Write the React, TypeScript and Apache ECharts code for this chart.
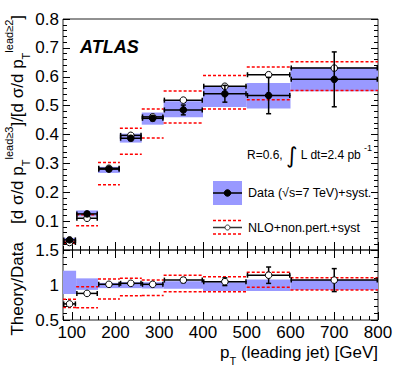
import React, { useEffect, useRef } from 'react';
import * as echarts from 'echarts';

// ---- data ----
const binLow = [80, 110, 160, 210, 260, 310, 400, 500, 600];
const binHigh = [110, 160, 210, 260, 310, 400, 500, 600, 800];
const binCenter = [95, 135, 185, 235, 285, 355, 450, 550, 700];

const dataValue = [0.035, 0.125, 0.28, 0.387, 0.456, 0.485, 0.541, 0.535, 0.591];
const dataStatErr = [0.003, 0.006, 0.006, 0.008, 0.008, 0.017, 0.029, 0.063, 0.095];
const dataSystLow = [0.030, 0.116, 0.267, 0.372, 0.434, 0.460, 0.495, 0.490, 0.550];
const dataSystHigh = [0.042, 0.137, 0.288, 0.403, 0.476, 0.515, 0.565, 0.578, 0.632];

const nloValue = [0.026, 0.110, 0.283, 0.397, 0.461, 0.519, 0.567, 0.607, 0.630];
const nloLow = [0.0238, 0.084, 0.226, 0.332, 0.388, 0.440, 0.488, 0.520, 0.552];
const nloHigh = [0.0278, 0.122, 0.303, 0.422, 0.488, 0.551, 0.604, 0.634, 0.652];

const ratioValue = [0.73, 0.88, 1.01, 1.024, 1.01, 1.07, 1.047, 1.14, 1.07];
const ratioErr = [0.01, 0.02, 0.02, 0.02, 0.018, 0.035, 0.055, 0.117, 0.164];
const ratioBandLow = [0.871, 0.93, 0.955, 0.955, 0.95, 0.945, 0.914, 0.914, 0.93];
const ratioBandHigh = [1.204, 1.095, 1.03, 1.04, 1.04, 1.055, 1.04, 1.08, 1.07];
const ratioNloLow = [0.68, 0.675, 0.80, 0.847, 0.85, 0.904, 0.905, 0.967, 0.93];
const ratioNloHigh = [0.795, 0.976, 1.086, 1.095, 1.07, 1.14, 1.119, 1.181, 1.104];

// ---- tick labels ----
const xMajorTicks = [100, 200, 300, 400, 500, 600, 700, 800];
const topYMajorTicks = [0, 0.1, 0.2, 0.3, 0.4, 0.5, 0.6, 0.7, 0.8];
const topYLabels = [0.1, 0.2, 0.3, 0.4, 0.5, 0.6, 0.7, 0.8];
const ratioYMajorTicks = [0.5, 1, 1.5];

const FONT = '"Liberation Sans", Arial, Helvetica, sans-serif';
const BAND = '#9999ff';
const RED = '#ff0000';

function steps(a: number, b: number, s: number) {
  const out: number[] = [];
  for (let k = 0; a + k * s <= b + 1e-9; k++) out.push(+(a + k * s).toFixed(4));
  return out;
}
const xMinorTicks = steps(80, 800, 20);
const topYMinorTicks = steps(0, 0.8, 0.02);
const ratioYMinorTicks = steps(0.5, 1.5, 0.1);

function axis(gridIndex: number, position: string, min: number, max: number, ticks: number[], len: number, labels?: number[]) {
  return {
    type: 'value',
    gridIndex,
    position,
    min,
    max,
    axisLine: { show: false },
    splitLine: { show: false },
    axisTick: { show: true, inside: true, length: len, customValues: ticks, lineStyle: { color: '#000', width: 1 } },
    axisLabel: labels
      ? {
          show: true,
          customValues: labels,
          fontSize: 17,
          fontFamily: FONT,
          color: '#000',
          margin: 4,
          formatter: (v: any) => String(+(+v).toFixed(2)),
        }
      : { show: false },
  };
}

function bandRender(lo: number[], hi: number[]) {
  return (_p: any, api: any) => {
    const i = api.value(2);
    const a = api.coord([binLow[i], hi[i]]);
    const b = api.coord([binHigh[i], lo[i]]);
    return {
      type: 'rect',
      shape: { x: a[0], y: a[1], width: b[0] - a[0], height: b[1] - a[1] },
      style: { fill: BAND },
    };
  };
}

function dashRender(lo: number[], hi: number[]) {
  return (_p: any, api: any) => {
    const i = api.value(2);
    const children = [lo[i], hi[i]].map((v) => {
      const a = api.coord([binLow[i], v]);
      const b = api.coord([binHigh[i], v]);
      return {
        type: 'line',
        shape: { x1: a[0], y1: a[1], x2: b[0], y2: b[1] },
        style: { stroke: RED, lineWidth: 1.5, lineDash: [3, 2] },
      };
    });
    return { type: 'group', children };
  };
}

function markerRender(val: number[], err: number[] | null, filled: boolean) {
  return (_p: any, api: any) => {
    const i = api.value(2);
    const l = api.coord([binLow[i], val[i]]);
    const r = api.coord([binHigh[i], val[i]]);
    const c = api.coord([binCenter[i], val[i]]);
    const st = { stroke: '#000', lineWidth: 1.5 };
    const cap = 2.5;
    const children: any[] = [
      { type: 'line', shape: { x1: l[0], y1: l[1], x2: r[0], y2: r[1] }, style: st },
      { type: 'line', shape: { x1: l[0] + 0.75, y1: l[1] - cap, x2: l[0] + 0.75, y2: l[1] + cap }, style: st },
      { type: 'line', shape: { x1: r[0] - 0.75, y1: r[1] - cap, x2: r[0] - 0.75, y2: r[1] + cap }, style: st },
    ];
    if (err) {
      const t = api.coord([binCenter[i], val[i] + err[i]]);
      const b = api.coord([binCenter[i], val[i] - err[i]]);
      children.push(
        { type: 'line', shape: { x1: t[0], y1: t[1], x2: b[0], y2: b[1] }, style: st },
        { type: 'line', shape: { x1: t[0] - cap, y1: t[1], x2: t[0] + cap, y2: t[1] }, style: st },
        { type: 'line', shape: { x1: b[0] - cap, y1: b[1], x2: b[0] + cap, y2: b[1] }, style: st }
      );
    }
    children.push({
      type: 'circle',
      shape: { cx: c[0], cy: c[1], r: 3.3 },
      style: { fill: filled ? '#000' : '#fff', stroke: '#000', lineWidth: 1 },
    });
    return { type: 'group', children };
  };
}

function seriesData(val: number[]) {
  return binCenter.map((c, i) => [c, val[i], i]);
}

function custom(gridAxis: number, val: number[], renderItem: any, z: number) {
  return {
    type: 'custom',
    xAxisIndex: gridAxis,
    yAxisIndex: gridAxis,
    data: seriesData(val),
    encode: { x: 0, y: 1 },
    renderItem,
    z,
    silent: true,
  };
}

const option: any = {
  animation: false,
  backgroundColor: '#fff',
  grid: [
    { left: 63, right: 21, top: 19, height: 231, show: true, borderColor: '#222', borderWidth: 1, backgroundColor: 'transparent' },
    { left: 63, right: 21, top: 250, height: 70, show: true, borderColor: '#222', borderWidth: 1, backgroundColor: 'transparent' },
  ],
  xAxis: [
    axis(0, 'bottom', 80, 800, xMajorTicks, 8),
    axis(0, 'bottom', 80, 800, xMinorTicks, 4),
    axis(0, 'top', 80, 800, xMajorTicks, 8),
    axis(0, 'top', 80, 800, xMinorTicks, 4),
    axis(1, 'bottom', 80, 800, xMajorTicks, 8, xMajorTicks),
    axis(1, 'bottom', 80, 800, xMinorTicks, 4),
    axis(1, 'top', 80, 800, xMajorTicks, 8),
    axis(1, 'top', 80, 800, xMinorTicks, 4),
  ],
  yAxis: [
    axis(0, 'left', 0, 0.8, topYMajorTicks, 7, topYLabels),
    axis(0, 'left', 0, 0.8, topYMinorTicks, 4),
    axis(0, 'right', 0, 0.8, topYMajorTicks, 7),
    axis(0, 'right', 0, 0.8, topYMinorTicks, 4),
    axis(1, 'left', 0.5, 1.5, ratioYMajorTicks, 7, ratioYMajorTicks),
    axis(1, 'left', 0.5, 1.5, ratioYMinorTicks, 4),
    axis(1, 'right', 0.5, 1.5, ratioYMajorTicks, 7),
    axis(1, 'right', 0.5, 1.5, ratioYMinorTicks, 4),
  ],
  series: [
    custom(0, dataValue, bandRender(dataSystLow, dataSystHigh), 1),
    custom(0, nloValue, dashRender(nloLow, nloHigh), 2),
    custom(0, nloValue, markerRender(nloValue, null, false), 3),
    custom(0, dataValue, markerRender(dataValue, dataStatErr, true), 4),
    custom(4, ratioValue, bandRender(ratioBandLow, ratioBandHigh), 1),
    custom(4, ratioValue, dashRender(ratioNloLow, ratioNloHigh), 2),
    custom(4, ratioValue, markerRender(ratioValue, ratioErr, false), 3),
  ],
  graphic: [
    {
      type: 'text',
      x: 80,
      y: 47,
      style: { text: 'ATLAS', fontFamily: FONT, fontSize: 18, fontWeight: 'bold', fontStyle: 'italic', fill: '#000', verticalAlign: 'middle' },
    },
    {
      type: 'text',
      x: 247,
      y: 155,
      style: {
        text: '{a|R=0.6, }{i|∫}{a| L dt=2.4 pb}',
        verticalAlign: 'middle',
        fill: '#000',
        rich: {
          a: { fontFamily: FONT, fontSize: 12, fill: '#000', verticalAlign: 'middle', lineHeight: 26 },
          i: { fontFamily: '"DejaVu Sans", sans-serif', fontSize: 22, fill: '#000', verticalAlign: 'middle', lineHeight: 26 },
        },
      },
    },
    {
      type: 'text',
      x: 364,
      y: 148,
      style: { text: '-1', fontFamily: FONT, fontSize: 9, fill: '#000', verticalAlign: 'middle' },
    },
    // legend: data
    { type: 'rect', shape: { x: 213, y: 181, width: 29, height: 24 }, style: { fill: BAND } },
    { type: 'line', shape: { x1: 213, y1: 193, x2: 242, y2: 193 }, style: { stroke: '#000', lineWidth: 1.5 } },
    { type: 'circle', shape: { cx: 227.5, cy: 193, r: 3.3 }, style: { fill: '#000', stroke: '#000' } },
    {
      type: 'text',
      x: 248,
      y: 193,
      style: { text: 'Data (√s=7 TeV)+syst.', fontFamily: FONT, fontSize: 12.5, fill: '#000', verticalAlign: 'middle' },
    },
    // legend: NLO
    { type: 'line', shape: { x1: 213, y1: 220.5, x2: 242, y2: 220.5 }, style: { stroke: RED, lineWidth: 1.5, lineDash: [3, 2] } },
    { type: 'line', shape: { x1: 213, y1: 234, x2: 242, y2: 234 }, style: { stroke: RED, lineWidth: 1.5, lineDash: [3, 2] } },
    { type: 'line', shape: { x1: 213, y1: 227.5, x2: 242, y2: 227.5 }, style: { stroke: '#333', lineWidth: 1.5 } },
    { type: 'circle', shape: { cx: 227.5, cy: 227.5, r: 2.5 }, style: { fill: '#fff', stroke: '#333', lineWidth: 1 } },
    {
      type: 'text',
      x: 248,
      y: 227.5,
      style: { text: 'NLO+non.pert.+syst', fontFamily: FONT, fontSize: 12.5, fill: '#000', verticalAlign: 'middle' },
    },
    // y title (top)
    {
      type: 'text',
      x: 17,
      y: 15,
      rotation: Math.PI / 2,
      style: {
        text: '{m|[d σ/d p}{s|T}{u|lead≥3}{m|]/[d σ/d p}{s|T}{u|lead≥2}{m|]}',
        align: 'right',
        verticalAlign: 'middle',
        fill: '#000',
        rich: {
          m: { fontFamily: FONT, fontSize: 17, fill: '#000', verticalAlign: 'middle', lineHeight: 28 },
          s: { fontFamily: FONT, fontSize: 11, fill: '#000', verticalAlign: 'bottom', lineHeight: 13 },
          u: { fontFamily: FONT, fontSize: 11, fill: '#000', verticalAlign: 'top', lineHeight: 13 },
        },
      },
    },
    // y title (bottom)
    {
      type: 'text',
      x: 17,
      y: 242,
      rotation: Math.PI / 2,
      style: { text: 'Theory/Data', fontFamily: FONT, fontSize: 17, fill: '#000', align: 'right', verticalAlign: 'middle' },
    },
    // x title
    {
      type: 'text',
      x: 378,
      y: 352,
      style: {
        text: '{m|p}{s|T}{m| (leading jet) [GeV]}',
        align: 'right',
        verticalAlign: 'middle',
        fill: '#000',
        rich: {
          m: { fontFamily: FONT, fontSize: 17, fill: '#000', verticalAlign: 'middle', lineHeight: 28 },
          s: { fontFamily: FONT, fontSize: 11, fill: '#000', verticalAlign: 'bottom', lineHeight: 13 },
        },
      },
    },
  ],
};

export default function App() {
  const ref = useRef<HTMLDivElement>(null);
  useEffect(() => {
    const chart = echarts.init(ref.current!, null, { renderer: 'svg' });
    chart.setOption(option);
    return () => chart.dispose();
  }, []);
  return (
    <div
      ref={ref}
      style={{ position: 'fixed', left: 0, top: 0, width: 399, height: 383, background: '#fff' }}
    />
  );
}
